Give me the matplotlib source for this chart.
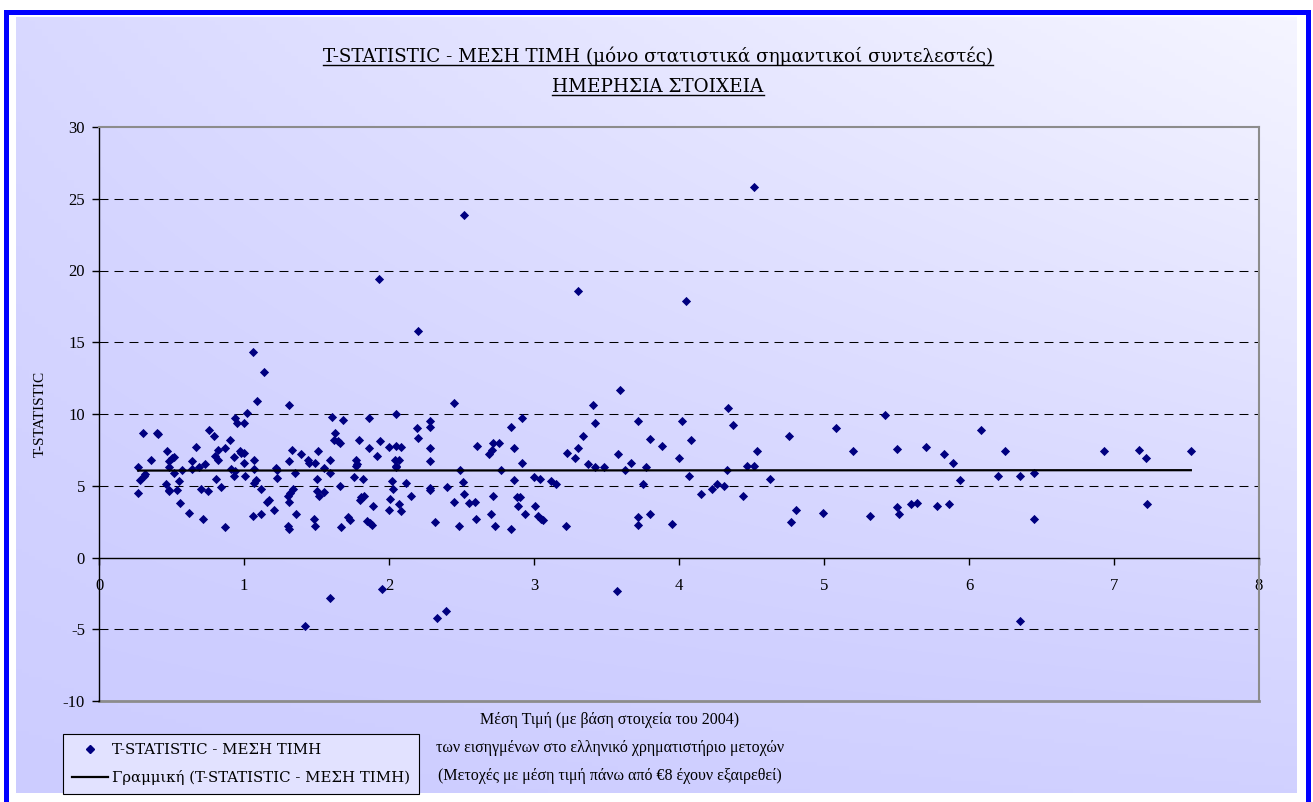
import numpy as np
import matplotlib
matplotlib.use('Agg')
import matplotlib.pyplot as plt
from matplotlib.patches import Rectangle
from matplotlib.lines import Line2D

plt.rcParams['font.family'] = ['Liberation Serif', 'DejaVu Serif']
plt.rcParams['axes.unicode_minus'] = False

# mean price (x) and t-statistic (y) in price bands
price_a = [1.09, 1.02, 0.94, 0.95, 1.00, 0.30, 0.40, 0.41, 0.76, 0.79,
           0.90, 0.67, 0.87, 0.82, 0.47, 0.97, 1.00, 0.98, 0.80, 0.82,
           0.52, 0.50, 0.48, 0.36, 0.64, 0.93, 1.07, 1.00, 0.73, 0.69,
           0.27, 0.48, 0.64, 0.91, 1.07, 0.57, 0.52, 0.94, 0.93, 0.32,
           0.31, 1.01, 0.81, 0.28, 0.55, 1.08, 1.07, 0.46, 0.84, 0.70,
           0.48, 0.48, 0.54, 1.12, 0.75, 0.27, 1.17, 1.16, 0.56, 1.21,
           0.62, 1.12, 1.06, 0.72, 0.87]
tstat_a = [10.9, 10.1, 9.7, 9.4, 9.4, 8.7, 8.7, 8.6, 8.9, 8.5,
           8.2, 7.7, 7.6, 7.5, 7.4, 7.4, 7.3, 7.3, 7.1, 6.8,
           7.0, 6.9, 6.7, 6.8, 6.7, 7.0, 6.8, 6.6, 6.5, 6.3,
           6.3, 6.3, 6.2, 6.2, 6.2, 6.1, 5.9, 6.0, 5.7, 5.8,
           5.7, 5.7, 5.5, 5.4, 5.3, 5.4, 5.2, 5.1, 4.9, 4.8,
           4.7, 4.6, 4.7, 4.8, 4.6, 4.5, 4.0, 3.9, 3.8, 3.3,
           3.1, 3.0, 2.9, 2.7, 2.1]

price_b = [1.31, 1.61, 1.68, 1.86, 2.05, 2.19, 2.28, 2.28, 1.63, 1.62,
           1.65, 1.66, 1.79, 1.94, 2.20, 1.86, 1.33, 1.51, 2.00, 2.05,
           2.08, 2.28, 1.39, 1.92, 1.44, 1.45, 1.49, 1.59, 1.31, 1.77,
           1.78, 1.77, 2.04, 2.07, 2.05, 2.05, 2.28, 1.22, 1.23, 1.55,
           1.35, 1.59, 1.23, 1.50, 1.76, 1.82, 2.02, 2.12, 1.66, 2.40,
           1.34, 1.32, 1.30, 1.50, 1.52, 1.55, 2.03, 2.28, 2.28, 1.83,
           1.81, 1.80, 2.01, 2.15, 1.31, 1.89, 2.07, 2.08, 2.00, 1.36,
           1.48, 1.49, 1.72, 1.73, 1.85, 1.87, 1.88, 2.32, 1.30, 1.31,
           1.67]
tstat_b = [10.6, 9.8, 9.6, 9.7, 10.0, 9.0, 9.5, 9.1, 8.7, 8.2,
           8.1, 8.0, 8.2, 8.1, 8.3, 7.6, 7.5, 7.4, 7.7, 7.8,
           7.7, 7.6, 7.2, 7.1, 6.8, 6.6, 6.6, 6.8, 6.7, 6.8,
           6.5, 6.4, 6.8, 6.8, 6.3, 6.4, 6.7, 6.25, 6.1, 6.25,
           5.9, 5.9, 5.55, 5.45, 5.6, 5.5, 5.3, 5.2, 5.0, 4.9,
           4.8, 4.5, 4.3, 4.6, 4.3, 4.55, 4.8, 4.85, 4.7, 4.3,
           4.2, 4.0, 4.1, 4.3, 3.9, 3.6, 3.7, 3.25, 3.3, 3.0,
           2.7, 2.2, 2.8, 2.6, 2.55, 2.4, 2.25, 2.45, 2.2, 2.0,
           2.1]

price_c = [3.59, 2.45, 3.41, 2.92, 3.42, 2.84, 3.34, 2.61, 2.72, 2.76,
           2.71, 2.69, 2.86, 3.23, 3.30, 3.28, 3.58, 2.92, 3.37, 3.42,
           3.48, 2.49, 2.77, 3.63, 2.86, 3.00, 3.04, 2.51, 3.12, 3.15,
           2.52, 2.72, 2.88, 2.90, 2.45, 2.55, 2.59, 2.89, 3.01, 2.70,
           2.94, 3.03, 3.05, 3.06, 2.60, 2.48, 2.73, 2.84, 3.22]
tstat_c = [11.7, 10.75, 10.6, 9.7, 9.4, 9.1, 8.5, 7.8, 8.0, 8.0,
           7.5, 7.2, 7.6, 7.3, 7.6, 6.95, 7.2, 6.6, 6.55, 6.3,
           6.3, 6.1, 6.1, 6.1, 5.4, 5.6, 5.5, 5.25, 5.3, 5.15,
           4.4, 4.3, 4.25, 4.2, 3.9, 3.8, 3.9, 3.6, 3.6, 3.0,
           3.0, 2.9, 2.7, 2.6, 2.7, 2.2, 2.2, 2.0, 2.2]

price_d = [4.34, 3.72, 4.02, 4.37, 3.80, 3.88, 4.08, 4.76, 3.67, 4.00,
           4.54, 3.77, 4.33, 4.47, 4.52, 4.07, 4.63, 3.75, 4.15, 4.23,
           4.26, 4.31, 4.44, 4.81, 3.72, 3.72, 3.80, 3.95, 4.77]
tstat_d = [10.4, 9.5, 9.5, 9.25, 8.25, 7.8, 8.2, 8.5, 6.6, 6.95,
           7.4, 6.3, 6.1, 6.4, 6.4, 5.7, 5.5, 5.1, 4.4, 4.8,
           5.1, 4.95, 4.3, 3.3, 2.8, 2.25, 3.0, 2.3, 2.5]

price_e = [5.42, 5.08, 6.08, 5.20, 5.50, 5.70, 5.83, 5.89, 6.25, 5.94,
           6.20, 6.35, 4.99, 5.32, 5.50, 5.52, 5.60, 5.64, 5.78, 5.86,
           6.45, 6.93, 7.17, 7.22, 7.53, 7.23, 6.45]
tstat_e = [9.9, 9.0, 8.9, 7.45, 7.55, 7.7, 7.2, 6.6, 7.45, 5.4,
           5.7, 5.7, 3.1, 2.9, 3.5, 3.05, 3.75, 3.8, 3.6, 3.7,
           5.9, 7.4, 7.5, 6.9, 7.45, 3.7, 2.7]

# outliers (high and negative)
price_out = [1.93, 2.52, 4.52, 3.30, 4.05, 2.20, 1.06, 1.14,
             1.59, 1.95, 1.42, 2.33, 2.39, 3.57, 6.35]
tstat_out = [19.4, 23.9, 25.8, 18.6, 17.9, 15.8, 14.3, 12.9,
             -2.8, -2.2, -4.8, -4.2, -3.7, -2.3, -4.4]

x_ticks = [0, 1, 2, 3, 4, 5, 6, 7, 8]
y_ticks = [-10, -5, 0, 5, 10, 15, 20, 25, 30]

title_1 = 'T-STATISTIC - ΜΕΣΗ ΤΙΜΗ (μόνο στατιστικά σημαντικοί συντελεστές)'
title_2 = 'ΗΜΕΡΗΣΙΑ ΣΤΟΙΧΕΙΑ'
x_label = ['Μέση Τιμή (με βάση στοιχεία του 2004)',
           'των εισηγμένων στο ελληνικό χρηματιστήριο μετοχών',
           '(Μετοχές με μέση τιμή πάνω από €8 έχουν εξαιρεθεί)']
series_name = 'T-STATISTIC - ΜΕΣΗ ΤΙΜΗ'
trend_name = 'Γραμμική (T-STATISTIC - ΜΕΣΗ ΤΙΜΗ)'

x = np.array(price_a + price_b + price_c + price_d + price_e + price_out)
y = np.array(tstat_a + tstat_b + tstat_c + tstat_d + tstat_e + tstat_out)

W, H, DPI = 1313, 802, 100
fig = plt.figure(figsize=(W / DPI, H / DPI), dpi=DPI)
fig.patch.set_facecolor('white')

wide_serif = ['DejaVu Serif', 'Liberation Serif']


def box(x0, y0, x1, y1):
    return [x0 / W, 1 - y1 / H, (x1 - x0) / W, (y1 - y0) / H]


def gradient(c0, c1, n=200):
    u, v = np.meshgrid(np.linspace(0, 1, n), np.linspace(0, 1, n))
    t = np.clip(0.75 * v * (0.35 + 0.65 * u) + 0.1 * u, 0, 1)[..., None]
    return np.array(c0) * (1 - t) + np.array(c1) * t


# chart area background
bg = fig.add_axes(box(16, 17, 1297, 793))
bg.imshow(gradient((0.80, 0.80, 1.0), (0.99, 0.99, 1.0)), origin='lower',
          aspect='auto', extent=[0, 1, 0, 1])
bg.axis('off')

fig.add_artist(Rectangle((5.5 / W, -0.05), (1308 - 5.5) / W, 1.05 - 12 / H,
                         transform=fig.transFigure, fill=False,
                         edgecolor='#0000FF', linewidth=3.6))

ax = fig.add_axes(box(99, 127, 1259, 701))
ax.set_xlim(0, 8)
ax.set_ylim(-10, 30)
ax.imshow(gradient((0.80, 0.80, 1.0), (0.96, 0.96, 1.0)), origin='lower',
          aspect='auto', extent=[0, 8, -10, 30], zorder=0)

for g in [-5, 5, 10, 15, 20, 25]:
    ax.axhline(g, color='black', linewidth=0.75, linestyle=(0, (8.6, 5.8)), zorder=1)
ax.axhline(-10, color='#8c8c8c', linewidth=2, zorder=1, clip_on=False)

ax.scatter(x, y, marker='D', s=22, color='#000080', linewidths=0, zorder=3)

k, b = np.polyfit(x, y, 1)
xs = np.array([x.min(), x.max()])
ax.plot(xs, k * xs + b, color='black', linewidth=1.6, zorder=4)

ax.spines['bottom'].set_position(('data', 0))
ax.spines['bottom'].set_linewidth(1.0)
ax.spines['left'].set_linewidth(1.0)
ax.spines['top'].set_color('#8c8c8c')
ax.spines['right'].set_color('#8c8c8c')
ax.spines['top'].set_linewidth(1.5)
ax.spines['right'].set_linewidth(1.5)
ax.set_xticks(x_ticks)
ax.set_yticks(y_ticks)
ax.tick_params(axis='both', direction='out', length=5, width=1, labelsize=12)
ax.tick_params(axis='x', pad=10)
ax.tick_params(axis='y', pad=5)

fig.text(40 / W, 1 - 414 / H, 'T-STATISTIC', rotation=90, ha='center',
         va='center', fontsize=11)

for i, line in enumerate(x_label):
    fig.text(610 / W, 1 - (720 + 28 * i) / H, line, ha='center', va='center',
             fontsize=11.5)

t1 = fig.text(658 / W, 1 - 62 / H, title_1, ha='center', va='baseline',
              fontsize=13.2, family=wide_serif)
t2 = fig.text(658 / W, 1 - 92 / H, title_2, ha='center', va='baseline',
              fontsize=13.2, family=wide_serif)

handles = [Line2D([], [], marker='D', linestyle='none', color='#000080', markersize=4),
           Line2D([], [], color='black', linewidth=1.6)]
leg = fig.legend(handles, [series_name, trend_name], loc='upper left',
                 bbox_to_anchor=(63 / W, 1 - 734 / H), fancybox=False,
                 edgecolor='black', facecolor='#e2e2ff', framealpha=1,
                 borderaxespad=0, handlelength=2.4, handletextpad=0.3,
                 borderpad=0.6, labelspacing=0.9,
                 prop={'family': wide_serif, 'size': 10.7})
leg.get_frame().set_linewidth(0.8)

# underline the title lines
fig.canvas.draw()
inv = fig.transFigure.inverted()
for t, base in [(t1, 62), (t2, 92)]:
    bb = t.get_window_extent()
    (x0, _), (x1, _) = inv.transform([[bb.x0, bb.y0], [bb.x1, bb.y1]])
    yy = 1 - (base + 3) / H
    fig.add_artist(Line2D([x0, x1], [yy, yy], transform=fig.transFigure,
                          color='black', linewidth=1))

plt.savefig('out.png', dpi=DPI)
plt.close(fig)
